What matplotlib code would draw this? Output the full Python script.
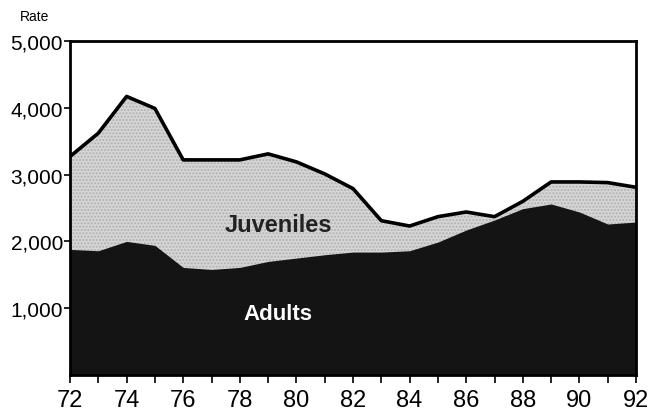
import matplotlib
matplotlib.use("Agg")
import matplotlib.pyplot as plt
import numpy as np

years = [72, 73, 74, 75, 76, 77, 78, 79, 80, 81, 82, 83, 84, 85, 86, 87, 88, 89, 90, 91, 92]
total = [3270, 3620, 4170, 3990, 3220, 3220, 3220, 3310, 3190, 3010, 2790, 2310, 2230, 2370, 2440, 2370, 2600, 2890, 2890, 2880, 2810]
adults = [1880, 1860, 2000, 1940, 1610, 1580, 1610, 1700, 1750, 1800, 1840, 1840, 1860, 1990, 2170, 2320, 2490, 2560, 2440, 2260, 2290]
xtick_labels = ["72", "74", "76", "78", "80", "82", "84", "86", "88", "90", "92"]
ytick_values = [1000, 2000, 3000, 4000, 5000]

plt.rcParams['font.family'] = ['Liberation Sans', 'DejaVu Sans']

fig = plt.figure(figsize=(6.5, 4.14), dpi=100)
ax = fig.add_axes([0.1077, 0.0918, 0.8708, 0.8068])

ax.fill_between(years, 0, total, color='#d6d6d6', lw=0, hatch='.....', edgecolor='#b0b0b0')
ax.fill_between(years, 0, adults, color='#141414', lw=0)
ax.plot(years, total, color='black', lw=2.6, solid_joinstyle='round')

ax.set_xlim(72, 92)
ax.set_ylim(0, 5000)

ax.set_xticks(years)
ax.set_xticklabels([str(y) if y % 2 == 0 else "" for y in years])
ax.set_yticks(ytick_values)
ax.set_yticklabels([f"{v:,}" for v in ytick_values])
ax.tick_params(axis='x', direction='out', length=6, width=1.2, pad=4, labelsize=17)
ax.tick_params(axis='y', direction='out', length=4, width=1.2, pad=1, labelsize=15)

for s in ax.spines.values():
    s.set_linewidth(2)
    s.set_color('black')

ax.text(79.35, 2250, "Juveniles", ha='center', va='center', fontsize=17, fontweight='bold', color='#222222')
ax.text(79.35, 915, "Adults", ha='center', va='center', fontsize=16, fontweight='bold', color='white')
fig.text(0.031, 0.958, "Rate", ha='left', va='center', fontsize=10)

fig.savefig("out.png", dpi=100)
